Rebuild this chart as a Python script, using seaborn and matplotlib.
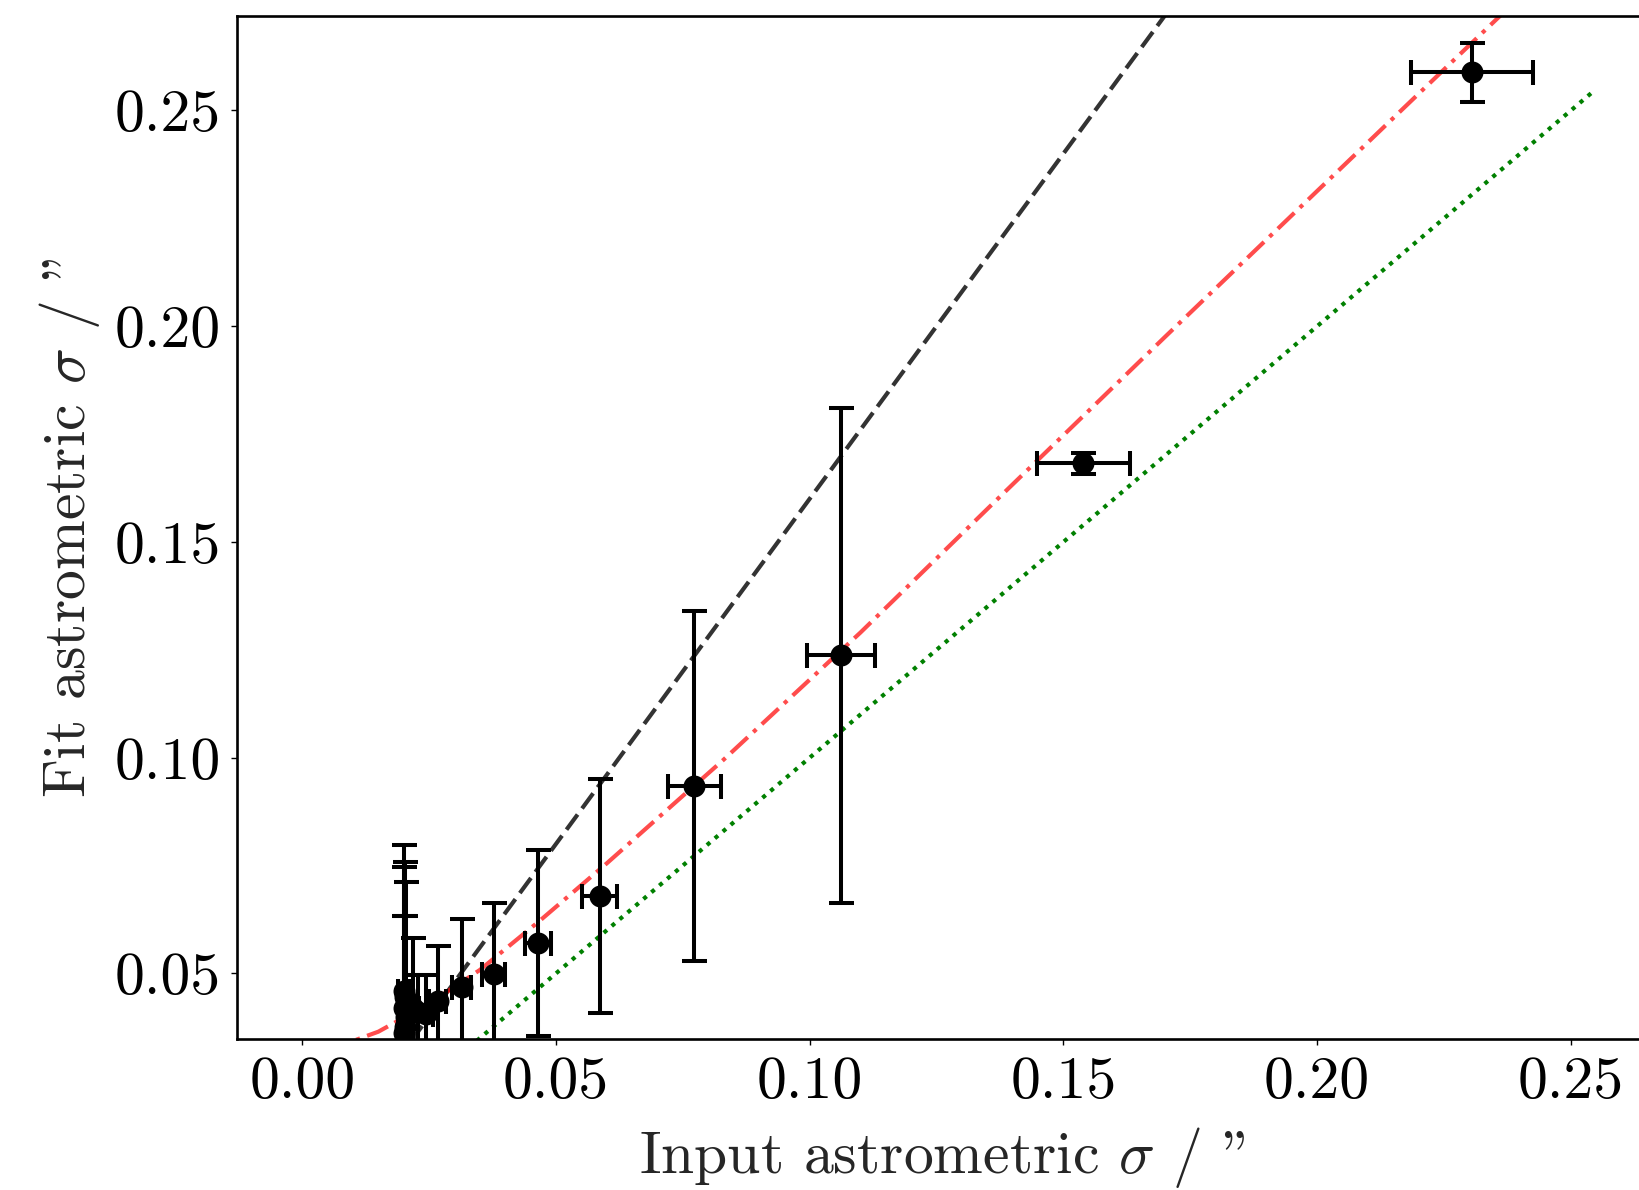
import matplotlib
matplotlib.use("Agg")
import matplotlib.pyplot as plt
import numpy as np
import pandas as pd
import seaborn as sns

# Measured astrometric widths: input sigma vs fitted sigma (arcsec)
input_sigma = [0.2305, 0.1539, 0.1061, 0.0773, 0.0586, 0.0465, 0.0377, 0.0314,
               0.0267, 0.0243, 0.0229, 0.0218, 0.0201, 0.0203, 0.0200, 0.0204,
               0.0202, 0.0201]
fit_sigma = [0.2588, 0.1682, 0.1237, 0.0934, 0.0679, 0.0571, 0.0498, 0.0469,
             0.0436, 0.0405, 0.0410, 0.0420, 0.0460, 0.0445, 0.0420, 0.0400,
             0.0375, 0.0362]
input_err = [0.0120, 0.0092, 0.0067, 0.0053, 0.0034, 0.0026, 0.0022, 0.0019,
             0.0017, 0.0015, 0.0014, 0.0013, 0.0012, 0.0012, 0.0012, 0.0012,
             0.0012, 0.0012]
fit_err = [0.0068, 0.0025, 0.0573, 0.0405, 0.0271, 0.0215, 0.0166, 0.0158,
           0.0127, 0.0092, 0.0087, 0.0163, 0.0337, 0.0314, 0.0327, 0.0313,
           0.0257, 0.0270]

# Reference relations
steep_x = [0.0, 0.18]
steep_y = [0.0, 0.288]
fit_curve_x = [0.005, 0.015, 0.025, 0.035, 0.047, 0.060, 0.083, 0.110, 0.1375,
               0.170, 0.2170, 0.245]
fit_curve_y = [0.0322, 0.0365, 0.0430, 0.0508, 0.0624, 0.0755, 0.0995, 0.1290,
               0.1605, 0.1975, 0.2505, 0.2820]
one_to_one_x = [0.0, 0.254]
one_to_one_y = [0.0, 0.254]

x_ticks = [0.00, 0.05, 0.10, 0.15, 0.20, 0.25]
y_ticks = [0.05, 0.10, 0.15, 0.20, 0.25]

sns.set_theme(style="ticks")
plt.rcParams.update({
    "font.family": ["cmr10", "DejaVu Serif"],
    "mathtext.fontset": "cm",
    "axes.formatter.use_mathtext": True,
    "axes.unicode_minus": False,
    "axes.edgecolor": "black",
    "axes.linewidth": 1.9,
    "xtick.color": "black",
    "ytick.color": "black",
    "xtick.direction": "out",
    "ytick.direction": "out",
    "xtick.major.size": 4,
    "ytick.major.size": 4,
    "xtick.major.width": 1.0,
    "ytick.major.width": 1.0,
})

fig = plt.figure(figsize=(16.39, 11.90), dpi=100)
ax = fig.add_axes([0.1449, 0.1265, 0.86, 0.8601])

df = pd.DataFrame({"x": input_sigma, "y": fit_sigma,
                   "xerr": input_err, "yerr": fit_err})

sns.lineplot(x=steep_x, y=steep_y, ax=ax, color="black", alpha=0.8, lw=3.0,
             linestyle=(0, (4.5, 1.8)), sort=False, estimator=None, zorder=1)
sns.lineplot(x=fit_curve_x, y=fit_curve_y, ax=ax, color="red", alpha=0.7, lw=3.0,
             linestyle=(0, (5.5, 1.8, 1, 1.8)), sort=False, estimator=None, zorder=1)
sns.lineplot(x=one_to_one_x, y=one_to_one_y, ax=ax, color="green", lw=3.0,
             linestyle=(0, (1, 1.5)), sort=False, estimator=None, zorder=1)

ax.errorbar(df["x"], df["y"], xerr=df["xerr"], yerr=df["yerr"], fmt="none",
            ecolor="black", elinewidth=2.9, capsize=9, capthick=2.9, zorder=2)
sns.scatterplot(data=df, x="x", y="y", ax=ax, color="black", s=250,
                edgecolor="black", linewidth=0, zorder=3)

ax.set_xlim(-0.01275, 0.2650)
ax.set_ylim(0.0347, 0.2719)
ax.set_xticks(x_ticks)
ax.set_yticks(y_ticks)
ax.set_xticklabels([f"{t:.2f}" for t in x_ticks])
ax.set_yticklabels([f"{t:.2f}" for t in y_ticks])
ax.tick_params(labelsize=43, pad=8)

ax.set_xlabel('Input astrometric $\\sigma$ / "', fontsize=43, labelpad=11)
ax.set_ylabel('Fit astrometric $\\sigma$ / "', fontsize=43, labelpad=9)

fig.savefig("out.png", dpi=100)
